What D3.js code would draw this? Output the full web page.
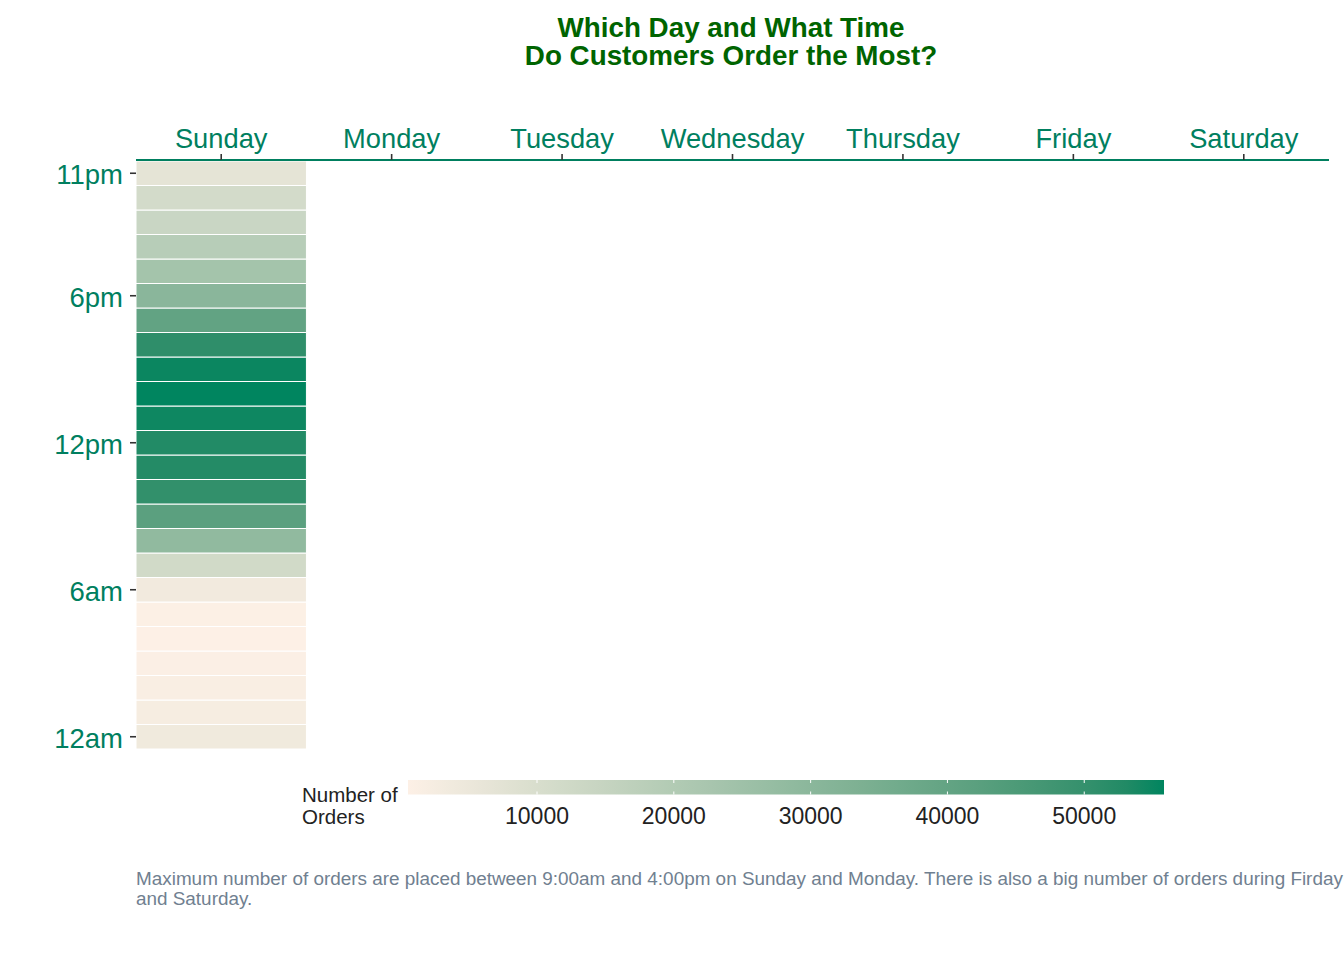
<!DOCTYPE html>
<html>
<head>
<meta charset="utf-8">
<script src="https://cdn.jsdelivr.net/npm/d3@7"></script>
<style>
  body { margin: 0; background: #fff; }
  svg { display: block; font-family: "Liberation Sans", Arial, sans-serif; }
</style>
</head>
<body>
<svg id="chart" width="1344" height="960"></svg>
<script>
// data
const days = ["Sunday", "Monday", "Tuesday", "Wednesday", "Thursday", "Friday", "Saturday"];
const hours = d3.range(0, 24);
// orders per hour on Sunday (hour 0 .. 23)
const sundayOrders = [3900, 2300, 1700, 1000, 570, 800, 3500, 12000, 28400, 41800, 50400, 52700,
                      52900, 55000, 55830, 55200, 51000, 40200, 30400, 23600, 18600, 13900, 11400, 6800];
const hourTicks = [0, 6, 12, 18, 23];
const hourLabels = ["12am", "6am", "12pm", "6pm", "11pm"];
const legendTicks = [10000, 20000, 30000, 40000, 50000];

const green = "#007f5f";
const svg = d3.select("#chart");

let cells = sundayOrders.map((v, h) => ({day: "Sunday", hour: h, orders: v}));

let x = d3.scaleBand().domain(days).range([136, 1329]).padding(0);
let y = d3.scaleBand().domain(hours).range([749, 161]).padding(0);

let color = d3.scaleLinear()
    .domain(d3.extent(sundayOrders))
    .range(["#fdf0e6", "#00855f"])
    .interpolate(d3.interpolateLab);

// title
svg.append("text")
    .attr("x", 731).attr("y", 36.5)
    .attr("text-anchor", "middle")
    .attr("font-size", 27.8).attr("font-weight", "bold")
    .attr("fill", "#006400")
    .text("Which Day and What Time");
svg.append("text")
    .attr("x", 731).attr("y", 65)
    .attr("text-anchor", "middle")
    .attr("font-size", 27.8).attr("font-weight", "bold")
    .attr("fill", "#006400")
    .text("Do Customers Order the Most?");

// tiles
svg.append("g").selectAll("rect")
    .data(cells)
    .enter().append("rect")
    .attr("x", d => x(d.day))
    .attr("y", d => y(d.hour))
    .attr("width", x.bandwidth())
    .attr("height", y.bandwidth())
    .attr("fill", d => color(d.orders))
    .attr("stroke", "#fff")
    .attr("stroke-width", 1);

// top axis
let xAxis = svg.append("g")
    .attr("transform", "translate(0,160)")
    .call(d3.axisTop(x).tickSize(6).tickPadding(6));
xAxis.select(".domain").attr("stroke", green).attr("stroke-width", 2)
    .attr("d", "M136,0H1329");
xAxis.selectAll(".tick line").attr("stroke", "#333").attr("stroke-width", 1.6);
xAxis.selectAll(".tick text")
    .attr("font-size", 27.3).attr("fill", green)
    .attr("font-family", "Liberation Sans, Arial, sans-serif");

// left axis
let yAxis = svg.append("g")
    .attr("transform", "translate(136,0)")
    .call(d3.axisLeft(y).tickValues(hourTicks)
        .tickFormat(h => hourLabels[hourTicks.indexOf(h)])
        .tickSize(6).tickPadding(7));
yAxis.select(".domain").remove();
yAxis.selectAll(".tick line").attr("stroke", "#333").attr("stroke-width", 1.6);
yAxis.selectAll(".tick text")
    .attr("font-size", 27.5).attr("fill", green)
    .attr("dy", "0.40em")
    .attr("font-family", "Liberation Sans, Arial, sans-serif");

// legend
let lx = d3.scaleLinear().domain(color.domain()).range([408, 1164]);
let grad = svg.append("defs").append("linearGradient").attr("id", "lg");
d3.range(0, 1.0001, 0.05).forEach(t => {
    grad.append("stop")
        .attr("offset", t)
        .attr("stop-color", color(lx.invert(408 + t * 756)));
});
svg.append("rect")
    .attr("x", 408).attr("y", 780)
    .attr("width", 756).attr("height", 14.5)
    .attr("fill", "url(#lg)");
let lt = svg.append("g").selectAll("g").data(legendTicks).enter().append("g");
lt.append("line")
    .attr("x1", d => lx(d)).attr("x2", d => lx(d))
    .attr("y1", 780).attr("y2", 783)
    .attr("stroke", "#fff").attr("stroke-width", 1);
lt.append("line")
    .attr("x1", d => lx(d)).attr("x2", d => lx(d))
    .attr("y1", 791.5).attr("y2", 794.5)
    .attr("stroke", "#fff").attr("stroke-width", 1);
lt.append("text")
    .attr("x", d => lx(d)).attr("y", 824)
    .attr("text-anchor", "middle")
    .attr("font-size", 23).attr("fill", "#222")
    .text(d => d);

svg.append("text")
    .attr("x", 302).attr("y", 802)
    .attr("font-size", 20.5).attr("fill", "#222")
    .text("Number of");
svg.append("text")
    .attr("x", 302).attr("y", 824)
    .attr("font-size", 20.5).attr("fill", "#222")
    .text("Orders");

// caption
svg.append("text")
    .attr("x", 136).attr("y", 885)
    .attr("font-size", 18.9).attr("fill", "#708090")
    .text("Maximum number of orders are placed between 9:00am and 4:00pm on Sunday and Monday. There is also a big number of orders during Firday");
svg.append("text")
    .attr("x", 136).attr("y", 905)
    .attr("font-size", 18.9).attr("fill", "#708090")
    .text("and Saturday.");
</script>
</body>
</html>
